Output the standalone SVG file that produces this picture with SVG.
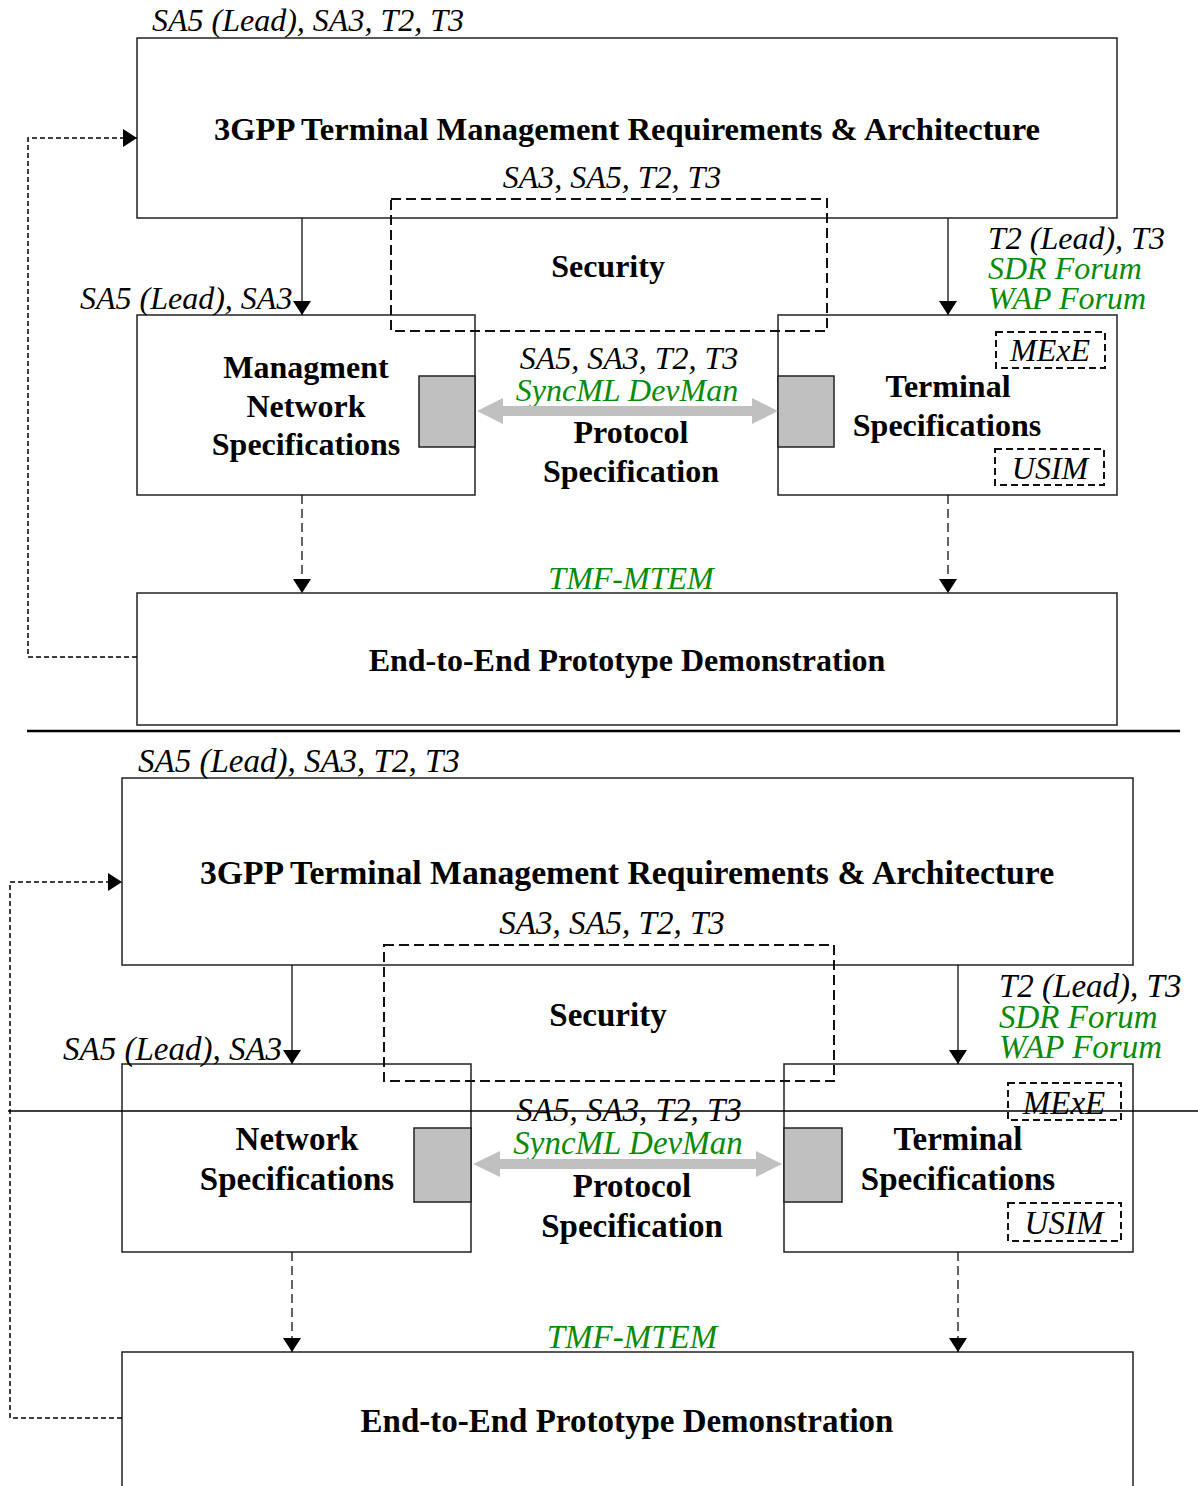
<svg xmlns="http://www.w3.org/2000/svg" width="1198" height="1486" viewBox="0 0 1198 1486">
<style>
.box{fill:#fff;stroke:#222;stroke-width:1.5}
.sec{fill:none;stroke:#111;stroke-width:2;stroke-dasharray:10,5}
.tag{fill:none;stroke:#111;stroke-width:2;stroke-dasharray:7,4}
.port{fill:#c0c0c0;stroke:#222;stroke-width:1.5}
.solid{fill:none;stroke:#111;stroke-width:1.3}
.dash{fill:none;stroke:#111;stroke-width:1.3;stroke-dasharray:9,5}
.fb{fill:none;stroke:#000;stroke-width:1.5;stroke-dasharray:5,3}
.b{font-family:"Liberation Serif","Times New Roman",serif;font-weight:bold;fill:#000}
.i{font-family:"Liberation Serif","Times New Roman",serif;font-style:italic;fill:#000}
.g{fill:#0a8a0a}
.c{text-anchor:middle}
.s1{font-size:32px}
.s2{font-size:33px}
.t1{font-size:32.6px}
.t2{font-size:33.7px}
.garrow{fill:#c0c0c0}
</style>
<defs>
<marker id="ah" markerUnits="userSpaceOnUse" markerWidth="14" markerHeight="18" viewBox="0 0 14 18" refX="14" refY="9" orient="auto">
<path d="M0,0 L14,9 L0,18 Z" fill="#000"/>
</marker>
</defs>

<!-- ================= TOP DIAGRAM ================= -->
<g id="top-arch">
<rect class="box" x="137" y="38" width="980" height="180"/>
<text class="i s1" x="152" y="31">SA5 (Lead), SA3, T2, T3</text>
<text class="b t1 c" x="627" y="140">3GPP Terminal Management Requirements &amp; Architecture</text>
</g>
<g id="top-mgmt">
<rect class="box" x="137" y="315" width="338" height="180"/>
<rect class="port" x="419" y="376" width="56" height="71"/>
<text class="b s1 c" x="306" y="378">Managment</text>
<text class="b s1 c" x="306" y="417">Network</text>
<text class="b s1 c" x="306" y="455">Specifications</text>
</g>
<g id="top-term">
<rect class="box" x="778" y="315" width="339" height="180"/>
<rect class="port" x="778" y="376" width="56" height="71"/>
<text class="b s1 c" x="948" y="397">Terminal</text>
<text class="b s1 c" x="947" y="436">Specifications</text>
<rect class="tag" x="996" y="332" width="109" height="36"/>
<text class="i s1 c" x="1050" y="361">MExE</text>
<rect class="tag" x="995" y="449" width="109" height="36"/>
<text class="i s1 c" x="1050" y="479">USIM</text>
</g>
<g id="top-security">
<rect class="sec" x="391" y="199" width="436" height="132"/>
<text class="i s1 c" x="612" y="188">SA3, SA5, T2, T3</text>
<text class="b s1 c" x="608" y="277">Security</text>
</g>
<g id="top-protocol">
<text class="i s1 c" x="629" y="369">SA5, SA3, T2, T3</text>
<text class="i s1 c g" x="627" y="401">SyncML DevMan</text>
<text class="b s1 c" x="631" y="443">Protocol</text>
<text class="b s1 c" x="631" y="482">Specification</text>
</g>
<g id="top-e2e">
<rect class="box" x="137" y="593" width="980" height="132"/>
<text class="i s1 c g" x="631" y="589">TMF-MTEM</text>
<text class="b s1 c" x="627" y="671">End-to-End Prototype Demonstration</text>
</g>
<g id="top-labels">
<text class="i s1" x="80" y="309">SA5 (Lead), SA3</text>
<text class="i s1" x="988" y="249">T2 (Lead), T3</text>
<text class="i s1 g" x="988" y="279">SDR Forum</text>
<text class="i s1 g" x="988" y="309">WAP Forum</text>
</g>

<g id="top-connectors">
<line class="solid" x1="302" y1="218" x2="302" y2="315" marker-end="url(#ah)"/>
<line class="solid" x1="948" y1="218" x2="948" y2="315" marker-end="url(#ah)"/>
<line class="dash" x1="302" y1="495" x2="302" y2="593" marker-end="url(#ah)"/>
<line class="dash" x1="948" y1="495" x2="948" y2="593" marker-end="url(#ah)"/>
<polyline class="fb" points="137,657 28,657 28,138 137,138" marker-end="url(#ah)"/>
<polygon class="garrow" points="477,411 503,398 503,406 752,406 752,398 778,411 752,424 752,416 503,416 503,424"/>
</g>

<line x1="27" y1="731" x2="1180" y2="731" stroke="#000" stroke-width="2.5"/>

<!-- ================= BOTTOM DIAGRAM ================= -->
<g id="bot-arch">
<rect class="box" x="122" y="778" width="1011" height="187"/>
<text class="i s2" x="138" y="772">SA5 (Lead), SA3, T2, T3</text>
<text class="b t2 c" x="627" y="884">3GPP Terminal Management Requirements &amp; Architecture</text>
</g>
<g id="bot-net">
<rect class="box" x="122" y="1064" width="349" height="188"/>
<rect class="port" x="414" y="1128" width="57" height="74"/>
<text class="b s2 c" x="297" y="1150">Network</text>
<text class="b s2 c" x="297" y="1190">Specifications</text>
</g>
<g id="bot-term">
<rect class="box" x="784" y="1064" width="349" height="188"/>
<rect class="port" x="784" y="1128" width="58" height="74"/>
<text class="b s2 c" x="958" y="1150">Terminal</text>
<text class="b s2 c" x="958" y="1190">Specifications</text>
<rect class="tag" x="1008" y="1083" width="113" height="37"/>
<text class="i s2 c" x="1064" y="1114">MExE</text>
<rect class="tag" x="1008" y="1203" width="113" height="38"/>
<text class="i s2 c" x="1064" y="1234">USIM</text>
</g>
<g id="bot-security">
<rect class="sec" x="384" y="945" width="450" height="136"/>
<text class="i s2 c" x="612" y="934">SA3, SA5, T2, T3</text>
<text class="b s2 c" x="608" y="1026">Security</text>
</g>
<g id="bot-protocol">
<text class="i s2 c" x="629" y="1121">SA5, SA3, T2, T3</text>
<text class="i s2 c g" x="628" y="1154">SyncML DevMan</text>
<text class="b s2 c" x="632" y="1197">Protocol</text>
<text class="b s2 c" x="632" y="1237">Specification</text>
</g>
<g id="bot-e2e">
<rect class="box" x="122" y="1352" width="1011" height="160"/>
<text class="i s2 c g" x="632" y="1348">TMF-MTEM</text>
<text class="b s2 c" x="627" y="1432">End-to-End Prototype Demonstration</text>
</g>
<g id="bot-labels">
<text class="i s2" x="63" y="1060">SA5 (Lead), SA3</text>
<text class="i s2" x="999" y="997">T2 (Lead), T3</text>
<text class="i s2 g" x="999" y="1028">SDR Forum</text>
<text class="i s2 g" x="999" y="1058">WAP Forum</text>
</g>

<g id="bot-connectors">
<line class="solid" x1="292" y1="965" x2="292" y2="1064" marker-end="url(#ah)"/>
<line class="solid" x1="958" y1="965" x2="958" y2="1064" marker-end="url(#ah)"/>
<line class="dash" x1="292" y1="1252" x2="292" y2="1352" marker-end="url(#ah)"/>
<line class="dash" x1="958" y1="1252" x2="958" y2="1352" marker-end="url(#ah)"/>
<polyline class="fb" points="122,1418 10,1418 10,882 122,882" marker-end="url(#ah)"/>
<polygon class="garrow" points="473,1164 500,1151 500,1159 756,1159 756,1151 782,1164 756,1177 756,1169 500,1169 500,1177"/>
</g>

<line x1="8" y1="1111" x2="1198" y2="1111" stroke="#000" stroke-width="1.3"/>
</svg>
